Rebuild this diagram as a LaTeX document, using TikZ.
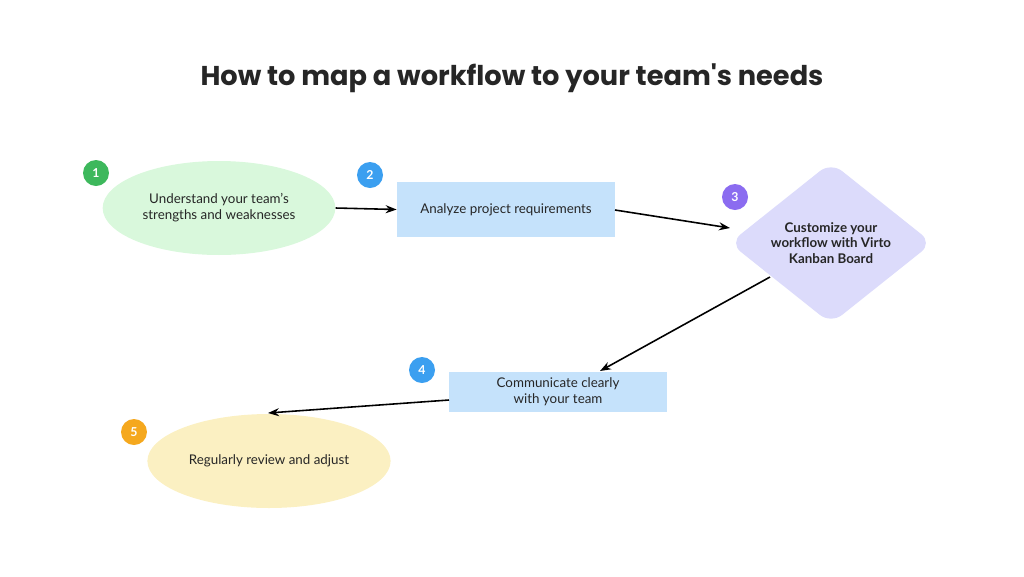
\documentclass[tikz,border=0pt]{standalone}
\usepackage{fontspec}
\setmainfont{Lato}
\newfontfamily\titlefont{Poppins}
\usetikzlibrary{shapes.geometric,arrows.meta}
\definecolor{cgreen}{HTML}{3DB85C}
\definecolor{cblue}{HTML}{3B9FF0}
\definecolor{cpurple}{HTML}{8B6CF0}
\definecolor{corange}{HTML}{F5A81E}
\definecolor{fgreen}{HTML}{D9F8DC}
\definecolor{fblue}{HTML}{C5E2FB}
\definecolor{fpurple}{HTML}{DCDBFB}
\definecolor{fyellow}{HTML}{FBF0C2}
\tikzset{
 badge/.style={circle,minimum size=0.52cm,inner sep=0,text=white,font=\fontsize{7}{8}\selectfont\bfseries},
 lbl/.style={font=\fontsize{7.6}{9}\selectfont,text=black!85,align=center},
 arr/.style={-{Stealth[length=2.2mm,width=1.6mm]},line width=0.9pt}
}
\begin{document}
\begin{tikzpicture}[x=0.02cm,y=-0.02cm]
\useasboundingbox (0,0) rectangle (1024,576);
\node[font=\titlefont\fontsize{15.5}{18}\selectfont\bfseries,text=black!85] (title) at (512,78) {How to map a workflow to your team's needs};
\node[ellipse,fill=fgreen,minimum width=4.4cm,minimum height=1.88cm,lbl] (s1) at (219,208) {Understand your team's\\strengths and weaknesses};
\node[badge,fill=cgreen] (b1) at (96,173) {1};
\node[rectangle,fill=fblue,minimum width=4.36cm,minimum height=1.1cm,lbl] (s2) at (506,209.5) {Analyze project requirements};
\node[badge,fill=cblue] (b2) at (370,175) {2};
\node[diamond,fill=fpurple,minimum width=4.06cm,minimum height=2.92cm,inner sep=0,lbl,font=\fontsize{7.6}{9}\selectfont\bfseries,rounded corners=8pt] (s3) at (831,243) {Customize your\\workflow with Virto\\Kanban Board};
\node[badge,fill=cpurple] (b3) at (735,197) {3};
\node[rectangle,fill=fblue,minimum width=4.36cm,minimum height=0.8cm,lbl] (s4) at (558,392) {Communicate clearly\\with your team};
\node[badge,fill=cblue] (b4) at (422,370) {4};
\node[ellipse,fill=fyellow,minimum width=4.4cm,minimum height=1.88cm,lbl] (s5) at (269,461) {Regularly review and adjust};
\node[badge,fill=corange] (b5) at (134,432) {5};
\coordinate (a2) at (730,228);
\coordinate (a3s) at (770,277);
\coordinate (a3e) at (600,371);
\coordinate (a4s) at (449,400);
\coordinate (a4e) at (268,413);
\draw[arr] (s1.east) -- (s2.west);
\draw[arr] (615,210) -- (a2);
\draw[arr] (a3s) -- (a3e);
\draw[arr] (a4s) -- (a4e);
\end{tikzpicture}
\end{document}
